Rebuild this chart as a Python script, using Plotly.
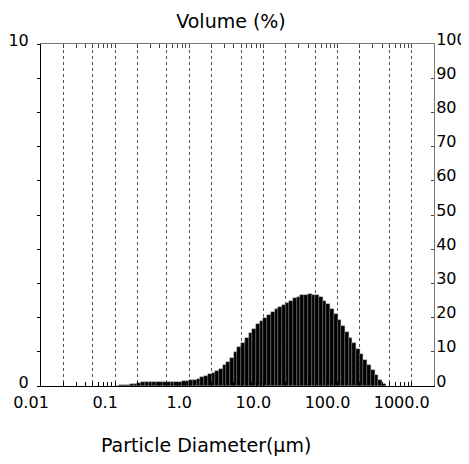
import numpy as np
import plotly.graph_objects as go

# Size classes (µm): standard log-spaced classes, 20 per decade from 0.02 to 2000
BIN_EDGES = 10 ** (-1.7 + 0.05 * np.arange(101))
FIRST_BIN = 14  # index of first non-zero class

# Volume (%) per size class (classes FIRST_BIN onward)
VOLUME = [
    0.01, 0.015, 0.02, 0.03, 0.045, 0.065, 0.09, 0.11, 0.125, 0.13,
    0.13, 0.13, 0.13, 0.125, 0.12, 0.12, 0.12, 0.125, 0.14, 0.16,
    0.175, 0.19, 0.215, 0.26, 0.30, 0.34, 0.38, 0.43, 0.50, 0.61,
    0.70, 0.82, 0.98, 1.13, 1.27, 1.41, 1.55, 1.68, 1.80, 1.91,
    2.00, 2.09, 2.17, 2.24, 2.30, 2.37, 2.44, 2.50, 2.56, 2.61,
    2.65, 2.67, 2.68, 2.67, 2.65, 2.59, 2.50, 2.39, 2.25, 2.10,
    1.92, 1.74, 1.57, 1.41, 1.25, 1.09, 0.93, 0.77, 0.61, 0.46,
    0.32, 0.18, 0.06,
]

X_TICK_VALS = [0.01, 0.1, 1, 10, 100, 1000]
X_TICK_TEXT = ["0.01", "0.1", "1.0", "10.0", "100.0", "1000.0"]
X_GRID_VALS = [0.02, 0.05, 0.1, 0.2, 0.5, 1, 2, 5, 10, 20, 50, 100, 200, 500, 1000]
X_MINOR_VALS = [m * 10.0 ** e for e in range(-2, 4) for m in range(2, 10) if m * 10.0 ** e < 2000]
X_TOP_MINOR = [v for v in X_MINOR_VALS if v not in X_GRID_VALS]
X_RANGE = [0.01, 2000]

Y_LEFT_TICKS = list(range(0, 11))
Y_LEFT_TEXT = ["0"] + [""] * 9 + ["10"]
Y_RIGHT_TICKS = list(range(0, 101, 10))

FONT = "DejaVu Sans"

# the page body adds an 8 px margin at top/left, so the figure is drawn 8 px smaller
W, H, PAD = 461, 456, 8

lo = BIN_EDGES[FIRST_BIN:FIRST_BIN + len(VOLUME)]
hi = BIN_EDGES[FIRST_BIN + 1:FIRST_BIN + 1 + len(VOLUME)]
x_mid = (lo + hi) / 2
widths = hi - lo

fig = go.Figure()
fig.add_trace(go.Bar(
    x=x_mid, y=VOLUME, width=widths,
    marker=dict(color="black", line=dict(color="#8a8a8a", width=0.4)),
    showlegend=False, hoverinfo="skip",
))
fig.add_trace(go.Scatter(x=[], y=[], xaxis="x2", yaxis="y2", showlegend=False))

logr = [float(np.log10(X_RANGE[0])), float(np.log10(X_RANGE[1]))]

fig.update_layout(
    width=W, height=H,
    margin=dict(l=41 - PAD, r=35, t=44 - PAD, b=78, autoexpand=False),
    paper_bgcolor="white", plot_bgcolor="white",
    bargap=0,
    font=dict(family=FONT, size=16, color="black"),
    title=dict(text="Volume (%)", x=(231 - PAD) / W, xref="container", xanchor="center",
               y=1 - (21 - PAD) / H, yref="container", yanchor="middle",
               font=dict(family=FONT, size=19, color="black")),
    xaxis=dict(type="log", range=logr, tickmode="array", tickvals=X_TICK_VALS,
               ticktext=X_TICK_TEXT, ticks="inside", ticklen=4, tickcolor="black",
               showline=True, linecolor="black", linewidth=1, showgrid=False,
               zeroline=False, ticklabelshift=-10, ticklabelstandoff=2, automargin=False,
               minor=dict(tickvals=X_MINOR_VALS, ticks="inside", ticklen=4,
                          tickcolor="black", showgrid=False)),
    xaxis2=dict(type="log", range=logr, overlaying="x", side="top", anchor="y2",
                tickmode="array", tickvals=X_GRID_VALS, showticklabels=False,
                ticks="inside", ticklen=4, tickcolor="#444", automargin=False,
                showline=True, linecolor="#777", linewidth=1,
                showgrid=True, gridcolor="#555", gridwidth=1, griddash="dot",
                zeroline=False,
                minor=dict(tickvals=X_TOP_MINOR, ticks="inside", ticklen=4,
                           tickcolor="#444", showgrid=False)),
    yaxis=dict(range=[0, 10], tickmode="array", tickvals=Y_LEFT_TICKS,
               ticktext=Y_LEFT_TEXT, ticks="outside", ticklen=3, tickcolor="black",
               showline=True, linecolor="black", linewidth=1, showgrid=False,
               zeroline=False, ticklabelstandoff=5, ticklabelshift=-4, automargin=False),
    yaxis2=dict(range=[0, 100], overlaying="y", side="right", anchor="x2",
                tickmode="array", tickvals=Y_RIGHT_TICKS, ticks="inside", ticklen=3,
                tickcolor="#444", showline=True, linecolor="#777", linewidth=1,
                showgrid=False, zeroline=False, ticklabelstandoff=-2, ticklabelshift=-5,
                automargin=False),
    annotations=[dict(text="Particle Diameter(µm)", xref="paper", yref="paper",
                      x=(206 - 41) / 393, y=0, yshift=-59, xanchor="center",
                      yanchor="middle", showarrow=False,
                      font=dict(family=FONT, size=19, color="black"))],
)

fig.write_html("out.html")
